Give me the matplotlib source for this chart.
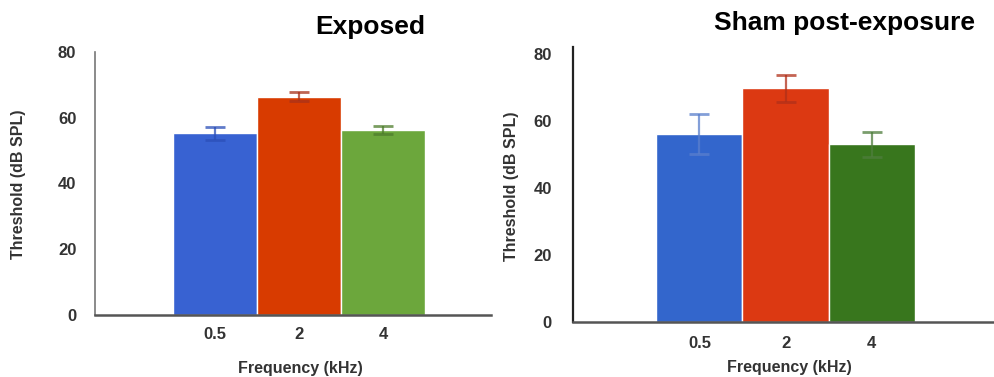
import numpy as np
import matplotlib.pyplot as plt

plt.rcParams['font.family'] = ['Liberation Sans', 'DejaVu Sans']

# Hearing thresholds per test frequency
frequencies = ['0.5', '2', '4']
exposed_mean = [55.3, 66.4, 56.2]
exposed_err = [2.0, 1.3, 1.3]
sham_mean = [56.0, 69.6, 52.9]
sham_err = [6.0, 4.1, 3.7]

exposed_colors = ['#3862D2', '#D83B00', '#6CA73C']
exposed_err_colors = ['#2B4FB8', '#A8321A', '#4E7D2C']
sham_colors = ['#3366CC', '#DC3912', '#38761D']
sham_err_colors = ['#5A7FCC', '#B0301A', '#4E7D3C']

fig = plt.figure(figsize=(9.95, 3.77), dpi=100)

ax1 = fig.add_axes([0.0955, 0.1645, 0.398, 0.698])
ax2 = fig.add_axes([0.5756, 0.1467, 0.4244, 0.729])


def draw_panel(ax, means, errs, colors, err_colors, title, xlim, ylim, title_pos,
               spine_color, spine_width, xpad, ypad, xlabel_pos, ylabel_pos):
    x = np.arange(len(means))
    ax.bar(x, means, width=1.0, color=colors, edgecolor='white', linewidth=1.0, zorder=2)
    for xi, m, e, c in zip(x, means, errs, err_colors):
        ax.errorbar(xi, m, yerr=e, fmt='none', ecolor=c, elinewidth=1.6,
                    capsize=7.5, capthick=2.0, alpha=0.75, zorder=3)
    ax.set_xlim(*xlim)
    ax.set_ylim(*ylim)
    ax.set_xticks(x)
    ax.set_xticklabels(frequencies)
    ax.set_yticks([0, 20, 40, 60, 80])
    ax.tick_params(axis='both', length=0, labelsize=12, colors='#333333')
    ax.tick_params(axis='x', pad=xpad)
    ax.tick_params(axis='y', pad=ypad)
    for lab in ax.get_xticklabels() + ax.get_yticklabels():
        lab.set_fontweight('bold')
    for side in ['top', 'right']:
        ax.spines[side].set_visible(False)
    ax.spines['left'].set_color(spine_color)
    ax.spines['left'].set_linewidth(spine_width)
    ax.spines['bottom'].set_color('#555555')
    ax.spines['bottom'].set_linewidth(1.8)
    ax.set_xlabel('Frequency (kHz)', fontsize=11.5, fontweight='bold', color='#333333')
    ax.set_ylabel('Threshold (dB SPL)', fontsize=11.5, fontweight='bold', color='#333333')
    ax.xaxis.set_label_coords(*xlabel_pos)
    ax.yaxis.set_label_coords(*ylabel_pos)
    ax.xaxis.label.set_va('center')
    ax.yaxis.label.set_va('center')
    fig.text(title_pos[0], title_pos[1], title, fontsize=19, fontweight='bold',
             ha='center', va='center')


draw_panel(ax1, exposed_mean, exposed_err, exposed_colors, exposed_err_colors, 'Exposed',
           (-1.43, 3.28), (0, 80), (370 / 995, 1 - 27 / 377), '#777777', 1.2,
           8.5, 13.5, (0.518, -0.2015), (-0.194, 0.498))
draw_panel(ax2, sham_mean, sham_err, sham_colors, sham_err_colors, 'Sham post-exposure',
           (-1.47, 3.43), (0, 82), (845 / 995, 1 - 23 / 377), '#222222', 1.6,
           10, 15, (0.512, -0.168), (-0.146, 0.494))

fig.savefig('out.png', dpi=100)
